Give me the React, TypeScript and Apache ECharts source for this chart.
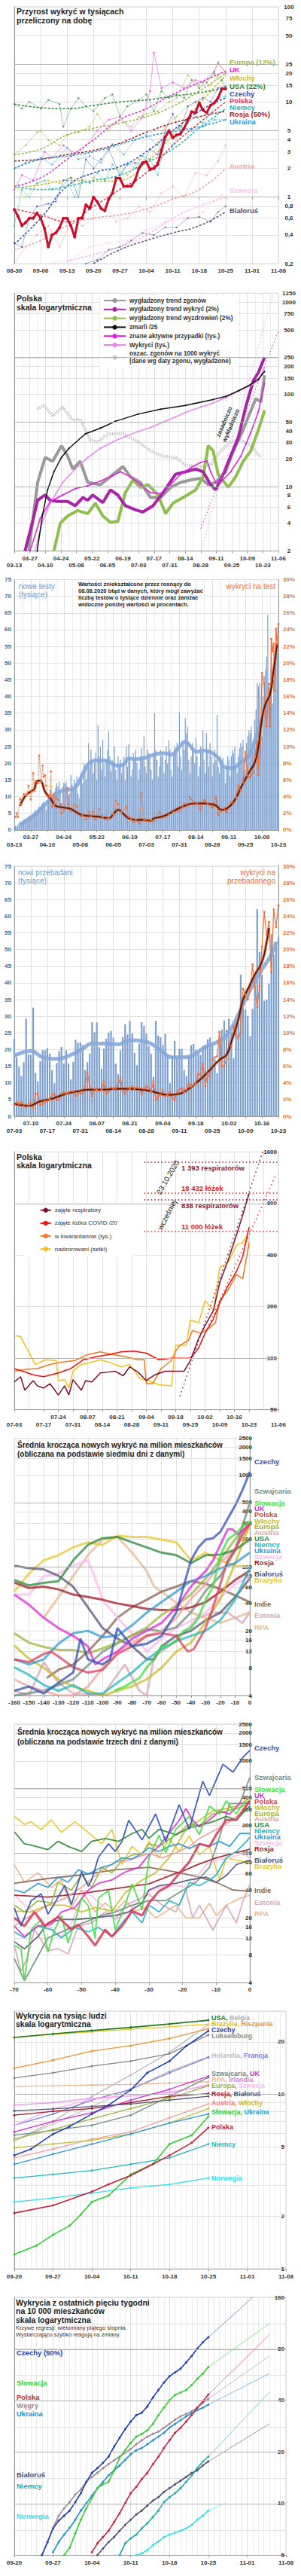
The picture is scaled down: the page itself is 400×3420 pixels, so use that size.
import React, { useEffect, useRef, useMemo } from 'react';
import * as echarts from 'echarts';

const FONT = '"Liberation Sans", Arial, Helvetica, sans-serif';
const lg = (v: number) => Math.log10(v);
const pairs = (arr: any[]) => arr.map(([x, v]) => [x, v == null ? null : lg(v)]);
const seq = (start: number, vals: any[]) => vals.map((v, i) => [start + i, v == null ? null : lg(v)]);
const atDays = (days: number[], vals: any[]) => vals.map((v, i) => [days[i], v == null ? null : lg(v)]);
const lin = (arr: any[]) => arr.map(([x, v]) => [x, v]);
const fmtLog = (v: number) => String(Math.round(Math.pow(10, v) * 100) / 100).replace('.', ',');

// ---------- colours ----------
const COL: any = {
  Europa: '#9cb43c', UK: '#dd2bd8', Wlochy: '#c9bb2b', USA: '#2a8a3a', Czechy: '#3050b8', Polska: '#d8405e',
  Niemcy: '#22b8c0', Rosja: '#a01e28', Ukraina: '#2e9ad8', Austria: '#f0a0a0', Szwecja: '#ffb8f0', Bialorus: '#555577',
  Szwajcaria: '#6f8f80', Slowacja: '#3ee03e', Brazylia: '#e8c830', Indie: '#8a6252', Estonia: '#d8a8b8', RPA: '#e8b890',
};

// ---------- panel 1 ----------
const P1_DATES = ['08-30', '09-06', '09-13', '09-20', '09-27', '10-04', '10-11', '10-18', '10-25', '11-01', '11-08'];
const P1_TICKS = [0.2, 0.4, 0.6, 0.8, 1, 2, 3, 4, 5, 10, 15, 20, 25, 50, 75, 100];
const P1_TREND_DAYS = [0, 7, 14, 21, 28, 35, 42, 49, 56];
const EUROPA_TREND = [2.8, 3.2, 4.5, 5.3, 6.0, 7.0, 9, 13, 20];
const WLOCHY_TREND = [1.25, 1.35, 1.5, 1.45, 1.5, 2.3, 4.5, 9.5, 19];
const UK_TREND = [1.3, 1.6, 2.5, 4, 6.5, 8.5, 12, 16, 21];
const USA_TREND = [9.5, 8.7, 8.5, 9.2, 10, 10.5, 11.5, 12.5, 14];
const CZECHY_TREND = [0.32, 0.6, 1.3, 1.8, 2.1, 3, 5, 8, 11];
const POLSKA_TREND = [0.75, 0.65, 0.55, 0.8, 1.2, 1.8, 3.5, 6, 10];
const NIEMCY_TREND = [1.3, 1.2, 1.3, 1.5, 1.7, 2.3, 3.2, 5.3, 8.5];
const ROSJA_TREND = [2.4, 2.5, 2.8, 3.1, 3.7, 4.8, 6, 7, 8];
const UKRAINA_TREND = [2.0, 2.5, 2.7, 3, 3.6, 4.3, 4.9, 5.5, 6.5];
const AUSTRIA_TREND = [0.28, 0.35, 0.5, 0.6, 0.65, 0.75, 0.95, 1.2, 2];
const SZWECJA_TREND = [null, null, 0.21, 0.25, 0.3, 0.4, 0.6, 0.8, 1.0];
const BIALORUS_TREND = [null, null, null, 0.2, 0.28, 0.35, 0.42, 0.5, 0.7];
const UK_DAILY = [[0, 1.2], [2, 1.7], [5, 1.5], [8, 3], [10, 2.6], [13, 3.5], [16, 2.9], [19, 3.5], [22, 5], [25, 6.5], [28, 7], [31, 5], [34, 7], [36, 13], [37, 33], [39, 14], [42, 16], [45, 14], [48, 17], [50, 16], [53, 21], [54, 26], [56, 20]];
const EUROPA_DAILY = [[0, 2.8], [3, 3.5], [6, 4.8], [7, 5], [9, 4], [12, 3.5], [14, 4.5], [17, 4.8], [20, 5.5], [22, 7.5], [25, 5], [28, 6.5], [31, 5.5], [33, 7], [35, 7.5], [38, 8], [41, 10], [43, 11], [46, 19], [49, 15], [52, 18], [54, 25], [56, 21]];
const WLOCHY_DAILY = [[0, 1.3], [3, 1.0], [6, 1.4], [9, 1.5], [12, 1.4], [15, 1.6], [18, 1.5], [21, 1.6], [24, 1.5], [27, 2], [30, 1.7], [33, 2.5], [36, 2.5], [38, 3.7], [40, 5.5], [43, 7], [46, 9], [49, 10], [52, 15], [54, 19], [56, 21]];
const USA_DAILY = [[0, 9.5], [2, 8.5], [4, 10], [7, 8.5], [9, 10.5], [12, 9.5], [13, 5.5], [15, 8.5], [17, 11], [19, 9], [21, 8], [24, 11], [26, 12], [28, 7], [30, 9], [33, 10.5], [35, 12], [37, 8], [39, 13], [41, 11], [43, 12], [45, 11], [47, 17], [49, 14], [51, 16], [53, 20], [55, 17], [56, 14]];
const CZECHY_DAILY = [[0, 0.33], [2, 0.3], [4, 0.6], [6, 0.8], [9, 0.85], [11, 0.9], [13, 1.5], [15, 1.6], [17, 1.0], [19, 2.5], [21, 2.0], [23, 2.5], [25, 3.2], [28, 1.7], [30, 2.2], [32, 2.3], [34, 2.2], [36, 3.2], [38, 2.8], [40, 5], [42, 7.5], [44, 5], [46, 9], [48, 10], [50, 11], [52, 10], [54, 14], [56, 14.5]];
const NIEMCY_DAILY = [[0, 0.5], [2, 1.2], [4, 1.0], [6, 1.4], [8, 1.5], [10, 1.2], [12, 1.2], [14, 1.5], [16, 1.0], [18, 1.5], [20, 1.4], [22, 1.8], [24, 1.5], [26, 2.2], [28, 1.7], [30, 2.3], [32, 2.0], [34, 2.7], [36, 2.5], [38, 1.7], [40, 4.0], [42, 3.5], [44, 5], [46, 6], [48, 7], [50, 6], [52, 7.5], [54, 11], [56, 11.5]];
const UKRAINA_DAILY = [[0, 2], [3, 2.3], [7, 2.6], [10, 2.2], [14, 3.3], [17, 2.5], [20, 2.7], [23, 2.3], [26, 3.6], [29, 2.8], [32, 4], [35, 4.5], [38, 3.5], [41, 4.8], [44, 5.5], [47, 5], [50, 5.5], [53, 6.5], [56, 6.5]];
const AUSTRIA_DAILY = [[0, 0.2], [3, 0.3], [6, 0.4], [9, 0.5], [12, 0.3], [15, 0.55], [18, 0.5], [21, 0.6], [24, 0.8], [27, 0.55], [30, 0.6], [33, 0.8], [36, 0.7], [39, 1.1], [42, 1.3], [45, 1.0], [48, 1.8], [51, 1.7], [54, 2.4], [56, 3.5]];
const SZWECJA_DAILY = [[10, 0.2], [15, 0.22], [20, 0.3], [25, 0.33], [30, 0.35], [35, 0.45], [40, 0.55], [45, 0.6], [50, 0.7], [55, 1.05]];
const BIALORUS_DAILY = [[19, 0.2], [22, 0.22], [25, 0.28], [28, 0.3], [31, 0.35], [34, 0.42], [37, 0.4], [40, 0.48], [43, 0.48], [46, 0.6], [49, 0.62], [52, 0.55], [54, 0.7], [56, 0.8]];
const POLSKA_DAILY_P1 = [0.74, 0.63, 0.50, 0.54, 0.60, 0.60, 0.68, 0.60, 0.47, 0.30, 0.40, 0.42, 0.48, 0.60, 0.60, 0.50, 0.38, 0.60, 0.60, 0.83, 0.76, 1.0, 0.89, 0.76, 0.72, 0.95, 1.1, 1.58, 1.58, 1.3, 1.3, 1.3, 1.5, 2.0, 2.3, 2.35, 1.95, 2.0, 2.2, 3.1, 4.3, 5.0, 4.2, 4.5, 4.6, 5.3, 6.4, 7.9, 7.7, 9.8, 8.2, 7.7, 9.2, 9.8, 11, 13.7, 13.7];

// ---------- panel 2 ----------
const P2_DATES = ['03-13', '03-27', '04-10', '04-24', '05-08', '05-22', '06-05', '06-19', '07-03', '07-17', '07-31', '08-14', '08-28', '09-11', '09-25', '10-09', '10-23', '11-06'];
const P2_TICKS = [2, 4, 6, 8, 10, 20, 30, 40, 50, 100, 150, 200, 250, 500, 750, 1000, 1250];
const ZMARLI = [[20.6, 2], [25.5, 5], [30, 9.2], [35.7, 14.5], [42.5, 20.7], [49.3, 26], [64, 37.3], [77.5, 43], [91, 51], [111.4, 61], [131.8, 69], [154.4, 76], [179.2, 88], [190.5, 95], [201.8, 109], [213.1, 128], [219.9, 146], [225.5, 177]];
const WYKRYCI = [[18.8, 2], [25.5, 4.2], [32.3, 6.6], [43.6, 11.1], [54.9, 15.5], [66.2, 20.7], [77.5, 26], [88.8, 30.6], [100.1, 35], [111.4, 39.6], [122.7, 43.7], [134, 49.9], [145.3, 56.8], [156.6, 65.5], [167.9, 72.6], [179.2, 80.8], [190.5, 92], [201.8, 108.8], [213.1, 124], [219.9, 141], [225.5, 195]];
const AKTYWNE = [[14.2, 2], [23.3, 4.5], [32.3, 6.9], [43.6, 8.1], [54.9, 9.5], [66.2, 10.2], [77.5, 11.5], [88.8, 13.2], [95.6, 14.5], [104.6, 12.8], [113.7, 10.5], [122.7, 8.6], [131.8, 8.4], [140.8, 10.5], [149.8, 13.6], [158.9, 16], [167.9, 18.3], [173.6, 19], [176.9, 14.5], [181.5, 11.1], [186, 11.1], [195, 14.5], [204.1, 21.4], [213.1, 38.5], [219.9, 64.6], [225.5, 132]];
const TREND_WYKRYC = [[9.7, 2], [16.5, 4.2], [21, 7.1], [27.8, 8.1], [32.3, 7.1], [39.1, 6.9], [48.1, 6.9], [54.9, 6.2], [61.7, 7.6], [66.2, 7.1], [70.7, 8.1], [79.8, 6.7], [86.6, 9.2], [93.3, 8.1], [100.1, 6.2], [109.2, 5.6], [115.9, 5.3], [125, 6.2], [134, 8.6], [145.3, 13.6], [154.4, 14.5], [163.4, 15.5], [170.2, 14.5], [176.9, 10.5], [181.5, 9.2], [188.2, 13.6], [195, 21.4], [201.8, 33.8], [208.6, 73.7], [215.4, 141], [219.9, 172], [225.5, 253]];
const TREND_ZGONOW = [[13.1, 2], [21, 11.1], [27.8, 20.7], [34.6, 18.8], [42.5, 27.8], [48.1, 21.4], [52.7, 15.5], [59.4, 18.8], [66.2, 11.1], [77.5, 10.5], [86.6, 12.8], [97.9, 16.5], [104.6, 12.8], [113.7, 11.1], [122.7, 7.6], [131.8, 7.6], [140.8, 9.8], [149.8, 11.1], [158.9, 11.8], [167.9, 12.3], [174.7, 10.5], [181.5, 11.1], [190.5, 14.5], [197.3, 24.4], [204.1, 36], [210.8, 56.8], [217.6, 90], [222.1, 83], [225.5, 161]];
const TREND_WYZDROWIEN = [[35.7, 2], [41.4, 4], [48.1, 4.8], [57.2, 5.5], [66.2, 5.1], [73, 6.6], [79.8, 4.8], [86.6, 4.1], [93.3, 4.2], [100.1, 8.6], [106.9, 11.8], [113.7, 9.8], [120.5, 10.5], [129.5, 8.1], [136.3, 5.1], [143, 6.6], [152.1, 7.6], [163.4, 9.2], [170.2, 12.8], [174.7, 27.8], [179.2, 24.4], [183.7, 13.6], [192.8, 9.8], [199.5, 12.8], [206.3, 18.8], [213.1, 24.4], [219.9, 41], [225.5, 67]];
const OSZAC = [[20.6, 69], [26.7, 76], [34.6, 58.6], [43.6, 72.6], [52.7, 52.5], [59.4, 54], [68.5, 32], [75.3, 30.6], [84.3, 37], [97.9, 37.7], [111.4, 30.6], [122.7, 24.4], [134, 21.4], [145.3, 20.7], [154.4, 17.1], [167.9, 16.5], [176.9, 17.1], [186, 24.4], [195, 30.6], [204.1, 32], [213.1, 27.8], [222.1, 20.7]];
const PROJ2_A = [[168, 3.5], [238, 485]];
const PROJ2_B = [[168.3, 2], [233.4, 1250]];

// ---------- panel 3 ----------
const P3_DATES = P2_DATES.slice(0, 17);
const TESTS3 = [
  0.8, 1.2, 1.0, 1.5, 2.0, 2.3, 2.0, 2.5, 3.0, 3.3, 2.8, 3.6, 4.0, 4.3,
  4.5, 4.2, 5.0, 5.5, 6.0, 5.2, 6.3, 7.0, 6.5, 7.5, 8.0, 8.5, 7.2, 6.0,
  9.0, 10.5, 11.0, 12.0, 10.0, 9.0, 11.5, 12.5, 14.0, 13.0, 14.5, 12.0, 8.0, 12.8,
  14.2, 13.8, 14.5, 13.0, 10.5, 11.0, 16.5, 13.5, 12.0, 15.0, 14.0, 16.0, 11.0, 9.5,
  16.5, 17.0, 14.0, 20.0, 18.0, 15.0, 19.0, 26.0, 19.0, 24.0, 21.0, 17.0, 20.0, 23.0,
  15.0, 31.4, 22.0, 25.0, 18.0, 27.0, 20.0, 16.0, 21.0, 24.0, 29.5, 22.0, 17.5, 21.0,
  20.0, 25.0, 18.0, 15.0, 22.0, 19.0, 21.0, 17.0, 20.0, 22.0, 15.0, 25.0, 19.0, 25.7,
  22.0, 16.0, 18.0, 23.0, 21.0, 24.0, 20.0, 15.0, 18.0, 22.0, 24.5, 21.0, 28.0, 19.0,
  17.0, 24.0, 23.0, 22.0, 18.0, 15.0, 23.0, 35.0, 24.0, 21.0, 16.0, 19.0, 24.0, 22.0,
  23.0, 17.0, 21.0, 25.0, 20.0, 26.8, 24.0, 18.0, 16.0, 22.0, 25.0, 23.0, 26.0, 19.0,
  35.2, 22.0, 18.0, 26.0, 24.0, 33.5, 29.0, 31.0, 21.0, 17.0, 22.0, 26.0, 24.0, 20.0,
  27.5, 22.0, 16.0, 19.0, 25.0, 23.0, 29.7, 21.0, 17.0, 29.0, 24.0, 19.0, 26.0, 22.0,
  16.0, 20.0, 24.0, 21.0, 34.5, 19.0, 17.0, 22.0, 20.0, 21.5, 18.0, 14.0, 19.0, 22.0,
  21.0, 16.0, 22.0, 24.0, 23.0, 25.0, 19.0, 17.0, 22.0, 24.5, 26.0, 25.0, 27.0, 21.0,
  18.0, 26.0, 28.0, 30.0, 29.0, 31.0, 24.0, 26.0, 33.0, 36.0, 44.0, 43.0, 44.0, 33.0,
  28.0, 40.0, 46.0, 48.0, 52.0, 64.5, 42.0, 37.0, 52.0, 38.0, 45.0, 50.0, 55.0, 53.0,
  55.0,
];
const TREND_TESTS3 = [[5, 1.65], [11, 3], [18, 4.7], [24, 6.9], [31, 9.2], [37, 11], [43, 12], [49, 12.2], [53, 13.3], [56, 15.2], [60, 18.2], [63, 19.8], [69, 20.8], [76, 20.8], [82, 20.1], [88, 19.2], [93, 19.7], [97, 21.4], [103, 21.2], [110, 21.5], [118, 22.5], [127, 23], [133, 22.5], [140, 24.9], [145, 26.4], [148, 25.6], [155, 23.4], [161, 23.7], [168, 23], [174, 21.1], [178, 18.8], [185, 18.5], [191, 20], [198, 21.9], [202, 24.9], [208, 30.9], [210, 33.2]];
const PCT3_EARLY = [[1, 1.56], [2, 2.0], [3, 1.56], [5, 3.7], [6, 3.07], [8, 4.27], [10, 4.1], [11, 4.27], [12, 5.3], [14, 3.67], [15, 4.57], [16, 6.8], [17, 4.7], [18, 5.8], [20, 5.6], [21, 8.9], [23, 5.8], [24, 7.7], [25, 6.4], [26, 6.5], [27, 5.3], [28, 4.0], [30, 4.0], [31, 7.0], [32, 2.8], [33, 4.27], [34, 3.07], [35, 3.8], [37, 3.67], [39, 3.07], [40, 2.0], [42, 2.3], [45, 5.0], [46, 3.07], [48, 2.3], [51, 3.07], [53, 2.8], [56, 1.56], [58, 1.86], [61, 1.26], [63, 2.17], [65, 1.56], [67, 2.17], [69, 1.26], [72, 2.47], [75, 1.56], [78, 1.26], [80, 1.4], [84, 1.86], [86, 3.5], [88, 3.07], [91, 2.17], [95, 2.77], [97, 1.56], [99, 1.26], [101, 0.96], [103, 1.26], [106, 0.8], [108, 4.4], [110, 1.1], [112, 1.26], [114, 0.96], [116, 1.2], [118, 1.05], [123, 2.1], [127, 1.5], [131, 1.8], [135, 2.1], [140, 2.26], [143, 2.7], [144, 3.17], [147, 2.86], [149, 3.9]];
const PCT3_LATE = [[149, 3.9], [152, 3.3], [155, 3.17], [158, 2.4], [161, 3.6], [164, 3.17], [168, 2.7], [171, 3.9], [173, 1.8], [175, 2.26], [178, 2.56], [180, 2.1], [184, 3.3], [186, 3.17], [188, 3.9], [190, 5.3], [192, 4.8], [194, 5.7], [196, 9.35], [198, 6.5], [200, 6.3], [202, 6.8], [204, 8.7], [206, 10.55], [207, 6.6], [209, 10.85], [210, 18.8], [212, 17.5], [213, 14.2], [214, 12.4], [216, 17.5], [217, 12.4], [218, 22.9], [219, 21.4], [220, 22.3], [221, 16.7], [222, 24.1], [223, 22.3], [224, 24.7]];
const SMOOTH_PCT3 = [[5, 2.9], [9, 4.0], [14, 4.6], [17, 4.9], [19, 5.8], [21, 5.9], [23, 5.8], [26, 4.6], [31, 3.7], [35, 2.9], [41, 2.7], [48, 2.5], [56, 1.86], [65, 1.65], [73, 1.56], [80, 1.4], [84, 1.86], [88, 2.4], [93, 1.86], [97, 1.4], [103, 1.2], [110, 1.2], [116, 1.1], [118, 1.36], [127, 1.66], [135, 2.26], [144, 2.86], [153, 3.17], [161, 3.17], [170, 3.0], [176, 2.4], [180, 2.56], [187, 3.6], [193, 5.3], [200, 7.1], [204, 8.1], [207, 9.95], [210, 13.3], [213, 15.1], [217, 16.3], [220, 19.3], [223, 22.3]];

// ---------- panel 4 ----------
const P4_DATES = ['07-03', '07-10', '07-17', '07-24', '07-31', '08-07', '08-14', '08-21', '08-28', '09-04', '09-11', '09-18', '09-25', '10-02', '10-09', '10-16', '10-23'];
const PERSONS4 = [
  23.1, 17.7, 14.8, 12.0, 16.2, 29.3, 18.6, 18.4, 32.6, 13.0, 10.5, 16.5, 19.8, 19.8, 20.4, 18.8, 13.8, 9.9, 16.0, 19.5,
  20.8, 15.8, 19.8, 15.8, 11.1, 16.3, 22.9, 22.0, 22.2, 21.4, 13.9, 16.2, 18.8, 28.2, 25.2, 28.2, 20.7, 14.3, 20.3, 23.3,
  25.1, 25.6, 23.6, 15.8, 12.6, 19.8, 23.7, 27.6, 24.5, 28.6, 24.8, 19.0, 15.3, 21.8, 28.2, 27.1, 24.8, 21.1, 18.8,
  11.8, 28.6, 24.2, 23.7, 21.4, 24.7, 18.1, 9.9, 18.1, 22.6, 17.7, 20.2, 20.2, 13.9, 12.0, 18.4, 21.3, 21.7, 19.9, 19.2,
  18.4, 21.1, 21.2, 23.1, 23.6, 21.4, 17.1, 12.8, 23.0, 26.0, 28.7, 26.0, 29.3, 25.2, 17.4, 27.8, 28.1, 42.5, 36.0, 32.0,
  30.1, 24.0, 32.2, 42.5, 62.1, 49.3, 42.5, 34.6, 35.0, 39.7, 54.6, 48.5, 52.3, 53.8,
];
const PCT4 = [
  1.35, 1.66, 1.5, 1.66, 1.2, 1.05, 1.35, 1.66, 0.9, 2.7, 2.7, 1.35, 1.5, 1.8, 1.8, 2.0, 2.56, 2.7, 1.96, 1.96,
  2.7, 2.86, 2.7, 2.86, 3.0, 3.0, 2.4, 2.7, 2.86, 2.7, 3.6, 5.27, 3.6, 2.4, 3.3, 3.16, 3.0, 3.16, 4.2, 2.7,
  3.0, 3.46, 3.3, 3.4, 3.76, 4.66, 3.0, 2.7, 3.46, 3.3, 3.6, 3.3, 3.46, 3.4, 2.6, 3.3, 3.6, 3.4, 3.0,
  4.2, 1.9, 2.4, 2.56, 3.16, 2.4, 2.56, 2.9, 2.26, 1.9, 2.86, 3.16, 3.4, 2.86, 3.2, 3.9, 3.6, 3.76, 3.9, 5.1,
  4.97, 6.3, 3.6, 5.1, 4.66, 6.77, 7.07, 7.2, 10.1, 6.0, 6.0, 6.9, 8.6, 8.4, 10.8, 9.9, 9.3, 10.1, 15.3, 14.6,
  14.0, 15.0, 18.2, 15.5, 13.1, 15.6, 20.3, 24.5, 21.8, 23.3, 17.3, 24.8, 22.7, 25.3,
];
const TREND_PERSONS4 = [[0, 18.1], [7, 19.6], [12, 17.7], [18, 17.2], [24, 18.4], [29, 20.3], [33, 21.8], [40, 21.8], [44, 21.6], [49, 22.8], [54, 22.6], [58, 21.8], [63, 19.2], [67, 17.7], [72, 17.7], [76, 18.4], [81, 20.8], [87, 22.6], [91, 25.2], [96, 32], [100, 38], [105, 44], [109, 48.5], [111, 52.3]];
const SMOOTH_PCT4 = [[0, 1.5], [6, 1.26], [11, 1.8], [16, 2.1], [22, 2.7], [27, 3.0], [32, 3.2], [38, 3.2], [43, 3.3], [48, 3.3], [54, 3.2], [58, 3.0], [60, 2.86], [65, 2.56], [70, 2.7], [74, 3.3], [78, 4.2], [82, 5.27], [87, 6.77], [90, 7.37], [92, 8.9], [95, 11.6], [97, 14], [100, 15.8], [102, 17], [105, 18.5], [107, 20.9], [108, 22.6]];

// ---------- panel 5 ----------
const P5_DATES = [...P4_DATES, '10-30', '11-06'];
const P5_TICKS = [50, 100, 200, 400, 800, 1600];
const RESPIRATORY = [[0, 72.7], [3, 78], [5, 65], [9, 74], [11, 69], [14, 67], [17, 71], [21, 61], [24, 69], [26, 61], [28, 75], [32, 65], [34, 74], [37, 72.7], [41, 82], [45, 83], [48, 84], [52, 79], [55, 89], [59, 83], [63, 74], [67, 80], [72, 84], [77, 84], [81, 84], [84, 97], [88, 131], [91, 155], [95, 190], [98, 276], [102, 374], [106, 524], [109, 685], [112, 915]];
const LOZKA = [[0, 87], [4, 84], [9, 80], [14, 78], [21, 82], [27, 87], [33, 98], [39, 102], [45, 105], [51, 109], [57, 110], [63, 107], [69, 98], [75, 100], [81, 100], [84, 100], [88, 115], [91, 140], [95, 170], [98, 210], [102, 265], [106, 321], [109, 393], [112, 582]];
const KWARANTANNA = [[0, 84], [5, 86], [11, 87], [17, 92], [23, 95], [29, 97], [35, 105], [41, 109], [47, 105], [53, 102], [59, 98], [62, 98], [63, 71], [66, 71], [70, 87], [75, 97], [77, 110], [79, 119], [83, 127], [85, 145], [89, 140], [93, 150], [96, 161], [98, 217], [102, 250], [106, 308], [109, 291], [111, 400], [112, 470]];
const NADZOROWANI = [[0, 135], [3, 134], [5, 120], [10, 92], [15, 98], [20, 97], [21, 74], [24, 75], [26, 67], [28, 84], [32, 92], [36, 94], [41, 98], [46, 94], [51, 89], [55, 92], [60, 76], [64, 74], [69, 70], [75, 69], [77, 119], [82, 119], [84, 167], [88, 161], [91, 217], [95, 190], [98, 337], [102, 362], [106, 458], [109, 473], [111, 520], [112, 440]];
const RESPIRATOR_LIMITS = [1393, 838];
const BED_LIMITS = [18432, 11000];
const BED_SCALE = 20;
const PROJ5_RESP = [[79, 60], [118.5, 1600]];
const PROJ5_BEDS = [[88, 115], [125, 1195]];

// ---------- panels 6 & 7 ----------
const P67_TICKS = [4, 8, 12, 16, 20, 40, 60, 80, 100, 200, 300, 400, 500, 1000, 1500, 2000, 2500];
const CZECHY6 = [[-160, 4.5], [-150, 5], [-140, 4.2], [-130, 5.5], [-120, 7.1], [-115, 16.6], [-110, 9.9], [-100, 8.7], [-95, 9.9], [-90, 21.6], [-80, 13.7], [-70, 14.6], [-60, 17.8], [-50, 31.9], [-40, 118], [-35, 163], [-30, 198], [-25, 205], [-20, 241], [-15, 334], [-10, 463], [-5, 685], [0, 1080]];
const SZWAJCARIA6 = [[-160, 4], [-140, 4.5], [-120, 6], [-100, 12], [-80, 18], [-70, 21], [-60, 20], [-50, 22], [-40, 32], [-30, 55], [-20, 80], [-10, 150], [-5, 280], [0, 500]];
const SLOWACJA6 = [[-92, 4.5], [-85, 5], [-75, 6.2], [-70, 8.1], [-65, 9.9], [-60, 13.7], [-55, 14.1], [-50, 15.6], [-45, 20.2], [-40, 21.6], [-35, 28], [-30, 44], [-25, 61], [-20, 134], [-15, 198], [-10, 226], [-5, 275], [0, 313]];
const UK6 = [[-160, 50], [-150, 38.8], [-140, 28], [-130, 21.6], [-120, 17.8], [-110, 13.7], [-105, 8.7], [-100, 9.9], [-90, 12], [-80, 16.6], [-70, 20.2], [-60, 24.6], [-50, 36.4], [-45, 47], [-40, 61], [-35, 75], [-30, 90], [-25, 118], [-20, 174], [-15, 257], [-12, 257], [-8, 226], [0, 293]];
const POLSKA6 = [[-160, 9.9], [-150, 9.2], [-140, 11.3], [-135, 12], [-130, 10.6], [-120, 8.1], [-110, 7.1], [-100, 7.6], [-90, 11.3], [-80, 13.7], [-70, 17.8], [-60, 19], [-50, 17.8], [-45, 13.7], [-42, 12], [-38, 12.8], [-30, 21.6], [-25, 36.4], [-20, 65.5], [-15, 118], [-10, 153], [-5, 226], [0, 293]];
const WLOCHY6 = [[-160, 14], [-150, 10], [-140, 8], [-130, 6], [-120, 5], [-110, 4.5], [-100, 4], [-90, 4.5], [-80, 5], [-70, 6], [-60, 8], [-50, 12], [-40, 15], [-30, 25], [-20, 45], [-10, 110], [0, 290]];
const EUROPA6 = [[-160, 19], [-150, 15], [-140, 13.5], [-130, 12.5], [-120, 12.5], [-110, 11.5], [-100, 13], [-90, 15], [-80, 18], [-70, 22], [-60, 30], [-50, 38], [-40, 50], [-30, 75], [-20, 120], [-10, 200], [0, 300]];
const AUSTRIA6 = [[-160, 6], [-150, 5], [-140, 4.5], [-130, 4], [-120, 4], [-110, 5], [-100, 8], [-90, 12], [-80, 15], [-70, 18], [-60, 20], [-50, 28], [-40, 45], [-30, 65], [-20, 110], [-10, 160], [0, 280]];
const USA6 = [[-160, 72], [-150, 63], [-140, 67], [-130, 70], [-120, 118], [-110, 174], [-100, 205], [-90, 212], [-80, 185], [-70, 163], [-60, 143], [-50, 134], [-40, 110], [-30, 134], [-20, 136], [-10, 153], [0, 198]];
const NIEMCY6 = [[-160, 8.1], [-150, 6.7], [-140, 5.2], [-130, 4.5], [-120, 5.2], [-110, 4.2], [-100, 4.2], [-90, 5.5], [-80, 7.1], [-70, 9.9], [-60, 12.8], [-50, 15.6], [-40, 17.8], [-30, 20.2], [-20, 26.3], [-10, 44], [0, 97]];
const UKRAINA6 = [[-160, 9.9], [-150, 8.7], [-140, 9.9], [-130, 14.6], [-120, 19], [-110, 20.2], [-100, 17.2], [-90, 17.8], [-80, 23.2], [-70, 31.9], [-60, 41.4], [-50, 53.8], [-40, 69.8], [-30, 79.6], [-20, 96.7], [-10, 110], [0, 143]];
const SZWECJA6 = [[-160, 50], [-150, 50], [-140, 79.6], [-130, 85], [-120, 103], [-110, 118], [-105, 75], [-100, 44], [-90, 28], [-80, 19], [-70, 12], [-60, 16.6], [-50, 21.6], [-40, 26], [-30, 32], [-20, 47], [-10, 65], [0, 80]];
const ROSJA6 = [[-160, 67.6], [-150, 59], [-140, 61], [-130, 57], [-120, 50], [-110, 47], [-100, 44], [-90, 40], [-80, 37.5], [-70, 35], [-60, 34], [-50, 34], [-40, 36.4], [-30, 41.4], [-20, 53.8], [-10, 72], [0, 91]];
const BIALORUS6 = [[-160, 103], [-150, 96.7], [-140, 94], [-130, 80], [-120, 61], [-110, 36.4], [-100, 21.6], [-90, 16.6], [-80, 13.7], [-70, 9.9], [-65, 9.9], [-60, 13.7], [-50, 17.8], [-40, 20.2], [-30, 26.3], [-20, 31.9], [-10, 47], [0, 75]];
const BRAZYLIA6 = [[-160, 53.8], [-150, 85], [-140, 118], [-130, 134], [-120, 163], [-110, 185], [-100, 174], [-90, 218], [-80, 212], [-70, 212], [-60, 198], [-50, 185], [-40, 118], [-30, 143], [-20, 118], [-10, 103], [0, 100]];
const INDIE6 = [[-138, 6.2], [-130, 7.6], [-120, 8.7], [-110, 12], [-100, 17.8], [-90, 28], [-80, 36.4], [-70, 44], [-60, 53.8], [-50, 61], [-40, 70], [-30, 65.5], [-20, 57.4], [-10, 49], [0, 41.4]];
const ESTONIA6 = [[-160, 4.5], [-150, 4], [-140, 9.2], [-130, 5.5], [-120, 4.2], [-100, 4], [-85, 8.7], [-75, 4.5], [-70, 4], [-65, 10.6], [-55, 13.7], [-45, 19], [-35, 28], [-25, 31.9], [-15, 31.9], [-5, 24.6], [0, 31.9]];
const RPA6 = [[-140, 28], [-130, 47], [-120, 79.6], [-110, 134], [-100, 198], [-90, 212], [-80, 143], [-70, 90], [-65, 61], [-60, 54], [-50, 41], [-40, 32], [-30, 28], [-20, 24.6], [-10, 28], [0, 32]];

const CZECHY7 = [[-70, 25.9], [-68, 16.4], [-65, 30.8], [-62, 36.6], [-60, 22], [-58, 29], [-55, 45], [-53, 28], [-50, 63], [-48, 44], [-47, 51.6], [-45, 91], [-42, 127], [-40, 105], [-38, 135], [-36, 228], [-32, 140], [-28, 267], [-25, 135], [-21, 335], [-18, 182], [-14, 602], [-12, 422], [-8, 919], [-5, 757], [-2, 1100], [0, 1300]];
const SZWAJCARIA7 = [[-70, 7.3], [-67, 4.2], [-60, 12.2], [-52, 16.4], [-44, 21.3], [-40, 23.3], [-35, 27.6], [-30, 30.8], [-25, 30.8], [-21, 37.6], [-16, 48.7], [-12, 70.8], [-9, 150], [-6, 347], [-3, 347], [0, 660]];
const SLOWACJA7 = [[-70, 10.1], [-68, 9.3], [-67, 4.2], [-65, 15], [-62, 19.3], [-60, 8.6], [-58, 15], [-56, 21.3], [-54, 10.8], [-52, 18], [-50, 33.1], [-48, 27], [-46, 12.2], [-45, 33], [-42, 39.4], [-40, 15], [-37, 28], [-35, 47], [-32, 24.5], [-30, 88.5], [-27, 158], [-25, 102], [-22, 182], [-18, 251], [-15, 159], [-12, 325], [-9, 267], [-7, 370], [-4, 267], [-2, 347], [0, 370]];
const UK7 = [[-70, 16.4], [-67, 12.6], [-63, 16.4], [-59, 17], [-56, 23.3], [-52, 25.9], [-48, 40.2], [-45, 47.4], [-41, 51.6], [-37, 63], [-33, 70.8], [-30, 96.3], [-27, 120], [-24, 165], [-21, 228], [-19, 305], [-17, 230], [-15, 193], [-12, 230], [-9, 286], [-6, 267], [-3, 347], [0, 347]];
const POLSKA7 = [[-70, 20.1], [-67, 16.4], [-64, 23.3], [-61, 16.4], [-57, 20.6], [-53, 15], [-51, 17], [-48, 12.6], [-46, 10.1], [-43, 15], [-41, 12.6], [-38, 16.4], [-35, 23.8], [-32, 21.3], [-30, 29], [-27, 39], [-24, 44.7], [-21, 60.8], [-18, 81], [-15, 127], [-12, 119], [-10, 159], [-7, 230], [-4, 230], [0, 370]];
const WLOCHY7 = [[-70, 23.8], [-65, 23.3], [-60, 27.6], [-55, 27.6], [-50, 23.3], [-46, 25.9], [-41, 23.8], [-37, 37.6], [-32, 51.6], [-28, 61.7], [-24, 89.5], [-19, 181], [-15, 228], [-11, 286], [-7, 305], [-4, 325], [0, 394]];
const EUROPA7 = [[-70, 27.6], [-67, 23.3], [-63, 30.8], [-59, 29], [-57, 48.7], [-53, 40], [-50, 58.5], [-47, 42.9], [-44, 70.8], [-41, 61.7], [-38, 84], [-35, 96], [-32, 100], [-30, 127], [-27, 119], [-22, 159], [-18, 206], [-15, 200], [-11, 267], [-7, 286], [-4, 305], [0, 347]];
const AUSTRIA7 = [[-70, 16.4], [-65, 21.3], [-60, 27.6], [-55, 32.6], [-50, 42.9], [-45, 61.7], [-40, 80.7], [-36, 84], [-30, 100], [-26, 89.5], [-21, 105], [-18, 119], [-15, 145], [-10, 182], [-6, 220], [-3, 267], [0, 370]];
const USA7 = [[-70, 171], [-67, 127], [-65, 123], [-60, 110], [-57, 135], [-54, 119], [-50, 105], [-47, 135], [-43, 145], [-39, 135], [-35, 164], [-32, 182], [-30, 145], [-27, 182], [-22, 159], [-18, 189], [-15, 200], [-11, 220], [-7, 251], [-4, 230], [0, 324]];
const NIEMCY7 = [[-70, 14.2], [-67, 12.2], [-63, 16.4], [-59, 15], [-56, 12.2], [-52, 15.8], [-48, 14.2], [-45, 15.8], [-41, 12.6], [-38, 17.7], [-35, 23.3], [-32, 17.7], [-30, 27.6], [-27, 23.3], [-24, 30.8], [-21, 27.6], [-18, 48.7], [-15, 44.7], [-12, 51.6], [-10, 58.5], [-7, 89.5], [-4, 105], [-1, 135], [0, 150]];
const UKRAINA7 = [[-70, 40.2], [-67, 37.6], [-63, 47.4], [-60, 42.9], [-57, 55.5], [-54, 48.7], [-51, 66.6], [-48, 60], [-44, 70.8], [-41, 75.7], [-38, 89.5], [-35, 87], [-32, 100], [-30, 115], [-27, 105], [-24, 119], [-21, 127], [-18, 113], [-15, 127], [-12, 119], [-9, 135], [-6, 119], [-3, 164], [0, 164]];
const SZWECJA7 = [[-70, 36], [-67, 27.6], [-64, 23.3], [-60, 16.4], [-56, 12.6], [-53, 17.7], [-49, 40.2], [-44, 27.6], [-40, 19.3], [-36, 23.3], [-31, 37.6], [-27, 42.9], [-22, 45.1], [-18, 42.9], [-13, 75.7], [-10, 84], [-6, 89.5], [-2, 100], [0, 89.5]];
const ROSJA7 = [[-70, 35.4], [-60, 33.7], [-50, 36.9], [-40, 41.6], [-30, 46.8], [-22, 60.8], [-20, 64.4], [-15, 76.9], [-10, 89.5], [-5, 100], [0, 111]];
const BIALORUS7 = [[-70, 11.1], [-67, 9.3], [-63, 12.6], [-60, 17.7], [-56, 19.3], [-52, 19.3], [-48, 19.8], [-44, 20.6], [-40, 21.3], [-36, 23.3], [-32, 29], [-30, 40.2], [-27, 44.7], [-22, 47.4], [-18, 51.6], [-13, 55.5], [-10, 48.7], [-7, 57.6], [-4, 75.7], [0, 84]];
const BRAZYLIA7 = [[-70, 251], [-67, 206], [-65, 220], [-62, 181], [-59, 230], [-56, 169], [-52, 220], [-50, 193], [-44, 127], [-41, 182], [-38, 75.7], [-35, 119], [-32, 96.3], [-30, 135], [-27, 89.5], [-24, 145], [-21, 105], [-18, 155], [-15, 96.3], [-12, 119], [-9, 51.6], [-7, 89.5], [-4, 84], [0, 80]];
const INDIE7 = [[-70, 47.4], [-60, 53.5], [-50, 58.5], [-40, 66.6], [-30, 70.8], [-22, 63], [-15, 55.5], [-10, 48.7], [-5, 40.2], [0, 39]];
const ESTONIA7 = [[-70, 10.1], [-68, 5.3], [-66, 7.7], [-64, 15], [-60, 8.9], [-57, 9.3], [-54, 8.2], [-51, 16.4], [-47, 17.7], [-43, 23.3], [-40, 19.3], [-37, 27.6], [-34, 30.8], [-30, 36], [-26, 27.6], [-22, 23.3], [-19, 40.2], [-17, 20.1], [-15, 27.6], [-11, 14.8], [-7, 27.6], [-4, 17.7], [-2, 30.8], [0, 46]];
const RPA7 = [[-70, 75.7], [-67, 48.7], [-63, 61.7], [-59, 42.9], [-56, 51.6], [-53, 25.9], [-50, 40.2], [-46, 23.3], [-43, 29], [-40, 23.8], [-37, 30.8], [-34, 23.8], [-31, 25.9], [-28, 20.1], [-25, 23.3], [-22, 27.6], [-19, 20.1], [-15, 20.1], [-12, 29], [-10, 21.3], [-7, 27.6], [-3, 32.6], [0, 35.4]];

// ---------- panel 8 ----------
const P89_DATES = ['09-20', '09-27', '10-04', '10-11', '10-18', '10-25', '11-01', '11-08'];
const P8_DAYS = [0, 7, 14, 21, 28, 35];
const USA8 = [21.2, 22.2, 23.2, 24.2, 25.3, 26.6];
const BELGIA8 = [5.4, 7.0, 9.74, 12.9, 17.4, 25.1];
const BRAZYLIA8 = [21.2, 22.0, 22.8, 23.6, 24.4, 25.2];
const HISZPANIA8 = [14.1, 15.7, 17.7, 19.0, 20.9, 23.8];
const CZECHY8 = [[0, 4.47], [3, 4.86], [7, 5.93], [10, 6.55], [14, 7.72], [17, 8.67], [21, 10.6], [24, 13.3], [28, 15.5], [31, 18.9], [35, 23.1]];
const LUKSEMBURG8 = [12.4, 13.3, 14.5, 15.5, 17.1, 21.9];
const HOLANDIA8 = [5.4, 6.77, 8.53, 10.7, 13.6, 16.4];
const FRANCJA8 = [6.65, 7.72, 9.27, 10.7, 13.3, 16.3];
const SZWAJCARIA8 = [5.83, 6.22, 6.65, 7.6, 9.74, 12.5];
const UK8 = [6.1, 7.0, 7.85, 9.27, 10.7, 12.7];
const RPA8 = [11.1, 11.2, 11.3, 11.4, 11.6, 11.8];
const IRLANDIA8 = [8.67, 8.97, 9.5, 9.8, 10.3, 11.2];
const EUROPA8 = [5.55, 6.3, 7.23, 8.3, 9.5, 11.2];
const SZWECJA8 = [6.65, 8.26, 9.4, 9.8, 10.1, 11.4];
const ROSJA8 = [7.6, 8.0, 8.3, 8.97, 9.74, 10.1];
const BIALORUS8 = [8.05, 8.26, 8.53, 8.8, 9.27, 9.74];
const AUSTRIA8 = [4.33, 4.86, 5.55, 6.1, 7.35, 8.8];
const WLOCHY8 = [4.94, 5.2, 5.45, 5.93, 6.85, 8.3];
const SLOWACJA8 = [[0, 1.21], [4, 1.36], [7, 1.57], [10, 1.77], [12, 2.05], [14, 2.42], [17, 2.63], [21, 3.48], [25, 3.98], [28, 5.19], [32, 5.83], [35, 7.47]];
const UKRAINA8 = [3.98, 4.55, 5.19, 5.93, 6.85, 7.72];
const POLSKA8 = [[0, 2.09], [7, 2.31], [14, 2.77], [17, 3.05], [21, 3.43], [25, 3.98], [28, 4.47], [32, 5.28], [35, 6.44]];
const NIEMCY8 = [3.32, 3.48, 3.66, 3.98, 4.33, 5.19];
const NORWEGIA8 = [2.42, 2.55, 2.72, 2.91, 3.05, 3.32];

// ---------- panel 9 ----------
const CZECHY9 = [5.0, 5.96, 7.17, 7.94, 8.5, 9.1, 10.2, 11.5, 13.4, 15.1, 16.1, 17.3, 18.8, 21.5, 24.2, 27.2, 30.1, 32.8, 33.9, 36.9, 41.6, 46, 50.9, 55.4, 58.3, 61.3, 66.7, 72.6, 80.4, 87.4, 93.5];
const SLOWACJA9 = [5.0, 5.53, 6.70, 8.05, 9.4, 10.75, 12.3, 12.96, 13.4, 15.6, 18.5, 20.5, 22.6, 24.6, 25.5, 26.8, 29.2, 32.8, 36.3, 40.2, 43, 44.5, 46, 49.2, 53.5, 57.3, 62.7];
const POLSKA9 = [5.2, 5.86, 6.37, 6.93, 7.81, 8.78, 10.06, 11.5, 12.5, 13.9, 15.1, 17, 18.8, 21.1, 23.4, 25.9, 27.7, 30.1, 32.8, 36.3, 39.5, 43.3];
const WEGRY9 = [5.0, 6.0, 7.22, 8.5, 9.4, 10.2, 11.3, 12.1, 13.4, 14.3, 15.1, 16.1, 17, 17.9, 18.8, 19.8, 20.8, 22.2, 23.4, 24.6, 25.5, 26.3, 27.7, 29.2, 30.9, 32.3, 33.4, 34.5, 36.3, 38.6, 40.9];
const UKRAINA9 = [5.2, 5.96, 6.59, 7.22, 8.05, 9.1, 10.06, 11.1, 12.3, 13.4, 14.6, 15.6, 16.7, 17.98, 19.4, 20.5, 21.1, 22.2, 23.4, 24.6, 25.9, 27.7, 29.2, 30.7, 32.3, 33.7, 35.1, 36.3, 37.8];
const BIALORUS9 = [5.0, 5.47, 5.96, 6.37, 6.93, 7.5, 8.05, 8.64, 9.1, 9.72, 10.4, 10.9, 11.7, 12.3, 12.96, 13.6, 14.3, 15.1, 15.6, 16.7, 17.6];
const NIEMCY9 = [5.0, 5.86, 6.27, 6.59, 7.17, 7.67, 8.35, 9.1, 10.2, 10.9, 11.5, 12.3, 13.4, 14.6, 16.1, 17.6, 18.8];
const NORWEGIA9 = [5.0, 5.12, 5.35, 5.72, 6.0, 6.37, 6.59, 6.75, 6.93, 7.17, 7.5, 8.05, 8.5, 9.1];
const PROJ9: any = {
  Czechy: [[35, 93.5], [39, 122], [43, 160]], Slowacja: [[35, 62.7], [46, 112.5]], Polska: [[35, 43.3], [46, 96.7]],
  Wegry: [[35, 40.9], [46, 72.6]], Ukraina: [[35, 37.8], [46, 57.3]], Bialorus: [[35, 17.6], [46, 29.2]],
  Niemcy: [[35, 18.8], [46, 44.6]], Norwegia: [[35, 9.1], [38, 10.06]],
};

// ---------- helpers ----------
const AXL: any = { color: '#333', fontSize: 8, fontWeight: 'bold', fontFamily: FONT };
const SPLIT: any = { show: true, lineStyle: { color: '#e0e0e0', width: 1 } };
const AXLINE: any = { show: true, lineStyle: { color: '#9a9a9a' } };
const GRID = (left: number, right: number, top: number, bottom: number) => ({ left, right, top, bottom, show: true, borderColor: '#d4d4d4', borderWidth: 1 });

function dateAxis(max: number, interval: number, dates: string[], twoRows: boolean, minor?: number) {
  const ax: any = {
    type: 'value', min: 0, max, interval,
    axisLine: AXLINE,
    axisTick: { show: true, length: 3, lineStyle: { color: '#9a9a9a' } },
    axisLabel: {
      ...AXL, margin: 5, lineHeight: 9.6, showMinLabel: true, showMaxLabel: true,
      formatter: (v: number) => { const i = Math.round(v / interval); const s = dates[i] ?? ''; return twoRows && i % 2 === 0 ? '\n' + s : s; },
    },
    splitLine: SPLIT,
  };
  if (minor) {
    ax.minorTick = { show: false, splitNumber: minor };
    ax.minorSplitLine = { show: true, lineStyle: { color: '#ececec', width: 1 } };
  }
  return ax;
}
function numAxis(min: number, max: number, interval: number) {
  return {
    type: 'value', min, max, interval,
    axisLine: AXLINE, axisTick: { show: true, length: 3, lineStyle: { color: '#9a9a9a' } },
    axisLabel: { ...AXL, margin: 5, showMinLabel: true, showMaxLabel: true }, splitLine: SPLIT,
  };
}
function logAxis(min: number, max: number, lines: number[], labels: number[], label: any) {
  return {
    type: 'value', position: 'right', min: lg(min), max: lg(max),
    axisLine: AXLINE, axisTick: { show: false, customValues: lines.map(lg) },
    axisLabel: { ...AXL, customValues: labels.map(lg), formatter: fmtLog, ...label },
    splitLine: SPLIT,
  };
}
const darkLines = (vals: number[]) => ({
  silent: true, symbol: 'none', label: { show: false }, animation: false,
  lineStyle: { color: '#b4b4b4', width: 1, type: 'solid' }, data: vals.map((v) => ({ yAxis: lg(v) })),
});
const T = (x: number, y: number, text: string, fill: string, size = 9, weight: any = 'bold', extra: any = {}) => ({
  type: 'text', x, y, z: 50, silent: true,
  style: { text, fill, fontSize: size, fontWeight: weight, fontFamily: FONT, align: 'left', verticalAlign: 'middle', ...extra },
});
const RT = (x: number, y: number, a: string, ca: string, b: string | null, cb: string | null, size = 8.5) => ({
  type: 'text', x, y, z: 50, silent: true,
  style: {
    text: b ? `{a|${a}}{b|${b}}` : `{a|${a}}`, fontFamily: FONT, verticalAlign: 'middle', align: 'left',
    rich: { a: { fill: ca, fontSize: size, fontWeight: 'bold', fontFamily: FONT }, b: { fill: cb || ca, fontSize: size, fontWeight: 'bold', fontFamily: FONT } },
  },
});
const L = (data: any[], color: string, width: number, extra: any = {}) => ({
  type: 'line', data, symbol: 'none', silent: true, lineStyle: { color, width }, itemStyle: { color }, ...extra,
});

// ---------- panels ----------
function panel1() {
  const list: any[] = [
    [COL.Austria, AUSTRIA_DAILY, AUSTRIA_TREND], [COL.Szwecja, SZWECJA_DAILY, SZWECJA_TREND], [COL.Bialorus, BIALORUS_DAILY, BIALORUS_TREND],
    [COL.Europa, EUROPA_DAILY, EUROPA_TREND], [COL.UK, UK_DAILY, UK_TREND], [COL.Wlochy, WLOCHY_DAILY, WLOCHY_TREND],
    [COL.USA, USA_DAILY, USA_TREND], [COL.Czechy, CZECHY_DAILY, CZECHY_TREND], [COL.Niemcy, NIEMCY_DAILY, NIEMCY_TREND],
    [COL.Rosja, null, ROSJA_TREND], [COL.Ukraina, UKRAINA_DAILY, UKRAINA_TREND], ['#e04050', null, POLSKA_TREND],
  ];
  const series: any[] = [];
  list.forEach(([c, d, t]) => {
    if (d) series.push(L(pairs(d), c, 1, { symbol: 'circle', symbolSize: 2.5, showSymbol: true, lineStyle: { color: c, width: 1, opacity: 0.45 }, itemStyle: { color: c, opacity: 0.7 } }));
    series.push(L(atDays(P1_TREND_DAYS, t), c, 1.5, { smooth: true, connectNulls: false, lineStyle: { color: c, width: 1.5, type: [3, 2] } }));
  });
  series.push(L(seq(0, POLSKA_DAILY_P1), '#c8102e', 3, { symbol: 'circle', symbolSize: 4, showSymbol: true, z: 5, markLine: darkLines([25, 5, 1]) }));
  const labels: any[] = [
    ['Europa (12%)', COL.Europa, 82], ['UK', COL.UK, 92.5], ['Włochy', COL.Wlochy, 103], ['USA (22%)', COL.USA, 114],
    ['Czechy', COL.Czechy, 124], ['Polska', COL.Polska, 133], ['Niemcy', COL.Niemcy, 142], ['Rosja (50%)', COL.Rosja, 151.5],
    ['Ukraina', COL.Ukraina, 161], ['Austria', '#f4a4a4', 220], ['Szwecja', '#ffc0f4', 252], ['Białoruś', COL.Bialorus, 279],
  ];
  return {
    grid: GRID(19, 30, 9, 30),
    xAxis: dateAxis(70, 7, P1_DATES, false),
    yAxis: logAxis(0.2, 100, P1_TICKS, P1_TICKS, { align: 'center', margin: 14 }),
    series,
    graphic: [
      T(22, 15, 'Przyrost wykryć w tysiącach', '#222', 10.5),
      T(22, 26.5, 'przeliczony na dobę', '#222', 10.5),
      ...labels.map(([s, c, y]) => T(305, y, s, c, 9.5)),
    ],
  };
}

function panel2() {
  const N = ['wygładzony trend zgonów', 'wygładzony trend wykryć (2%)', 'wygładzony trend wyzdrowień (2%)', 'zmarli /25', 'znane aktywne przypadki (tys.)', 'Wykryci (tys.)', 'oszac. zgonów na 1000 wykryć\n(dane wg daty zgonu, wygładzone)'];
  const series: any[] = [
    L(pairs(OSZAC), '#c8c8c8', 4, { name: N[6], lineStyle: { color: '#c8c8c8', width: 4, type: [1.5, 1.5] } }),
    L(pairs(TREND_ZGONOW), '#9a9a9a', 4, { name: N[0], markLine: darkLines([250, 50, 10]) }),
    L(pairs(TREND_WYZDROWIEN), '#8fc04f', 4, { name: N[2] }),
    L(pairs(TREND_WYKRYC), '#a626a6', 4, { name: N[1] }),
    L(pairs(WYKRYCI), '#ee82ee', 1.5, { name: N[5], symbol: 'circle', symbolSize: 2, showSymbol: true }),
    L(pairs(AKTYWNE), '#e020e0', 1.5, { name: N[4], symbol: 'circle', symbolSize: 2, showSymbol: true }),
    L(pairs(ZMARLI), '#111', 1.5, { name: N[3], symbol: 'circle', symbolSize: 2, showSymbol: true, z: 4 }),
    L(pairs(PROJ2_A), '#c040c0', 1, { lineStyle: { color: '#c040c0', width: 1, type: [1.5, 3] } }),
    L(pairs(PROJ2_B), '#e8a0e8', 1, { lineStyle: { color: '#e8a0e8', width: 1, type: [1.5, 3] } }),
  ];
  return {
    grid: GRID(19, 30, 9.3, 28.4),
    xAxis: dateAxis(238, 14, P2_DATES, true, 2),
    yAxis: logAxis(2, 1250, P2_TICKS, P2_TICKS, { align: 'center', margin: 14 }),
    legend: {
      data: N, orient: 'vertical', left: 133, top: 12, itemWidth: 29, itemHeight: 8, itemGap: 1.8, padding: [2, 6, 3, 4],
      backgroundColor: '#fff', textStyle: { color: '#333', fontSize: 8.2, fontWeight: 'bold', fontFamily: FONT, lineHeight: 10 },
      selectedMode: false,
    },
    series,
    graphic: [
      T(22, 16, 'Polska', '#222', 10.5),
      T(22, 27.5, 'skala logarytmiczna', '#222', 10.5),
      { ...T(298, 180, 'zasadniczo', '#333', 8, 'bold', { align: 'center' }), rotation: 1.17 },
      { ...T(307, 185, 'wykładniczo', '#333', 8, 'bold', { align: 'center' }), rotation: 1.17 },
    ],
  };
}

function pctAxes(labelRight: any) {
  return [
    { type: 'value', position: 'left', min: 0, max: 75, interval: 5, axisLine: AXLINE, axisTick: { show: false },
      axisLabel: { ...AXL, color: '#3a66a8', margin: 4 }, splitLine: SPLIT },
    { type: 'value', position: 'right', min: 0, max: 30, interval: 2, axisLine: AXLINE, axisTick: { show: false },
      axisLabel: { ...AXL, color: '#e8703a', margin: 6, formatter: '{value}%', ...labelRight }, splitLine: { show: false } },
  ];
}

function panel3() {
  return {
    grid: GRID(19, 30, 9.5, 28.2),
    xAxis: dateAxis(224, 14, P3_DATES, true, 2),
    yAxis: pctAxes({}),
    series: [
      { type: 'bar', data: TESTS3.map((v, i) => [i, v]), barWidth: 1.2, itemStyle: { color: '#7b9fcf' }, silent: true },
      L(lin(TREND_TESTS3), '#86a9d9', 5, { smooth: true, lineStyle: { color: '#86a9d9', width: 5, opacity: 0.9 } }),
      L(lin(PCT3_EARLY), '#f07848', 1, { yAxisIndex: 1, symbol: 'circle', symbolSize: 3, showSymbol: true, lineStyle: { color: '#f07848', width: 1.2, type: 'dotted' } }),
      L(lin(PCT3_LATE), '#f07040', 1.3, { yAxisIndex: 1, symbol: 'circle', symbolSize: 3, showSymbol: true }),
      L(lin(SMOOTH_PCT3), '#c04818', 4, { yAxisIndex: 1, smooth: true, lineStyle: { color: '#d05a20', width: 4, opacity: 0.6 } }),
      L(lin(SMOOTH_PCT3), '#5a1506', 1.8, { yAxisIndex: 1, smooth: true }),
    ],
    graphic: [
      T(25, 18, 'nowe testy', '#6f9bd0', 10, 'normal'),
      T(25, 29, '(tysiące)', '#6f9bd0', 10, 'normal'),
      T(366, 18, 'wykryci na test', '#e8704a', 10, 'normal', { align: 'right' }),
      { type: 'text', x: 104, y: 10.5, z: 50, silent: true, style: {
        text: 'Wartości zniekształcone przez rosnący do\n08.08.2020 błąd w danych, który mógł zawyżać\nliczbę testów o tysiące dziennie oraz zaniżać\nwidoczne poniżej wartości w procentach.',
        fill: '#222', fontSize: 7.5, fontWeight: 'bold', fontFamily: FONT, lineHeight: 9.1, align: 'left', verticalAlign: 'top' } },
    ],
  };
}

function panel4() {
  return {
    grid: GRID(19, 30, 20, 28),
    xAxis: dateAxis(112, 7, P4_DATES, true),
    yAxis: pctAxes({}),
    series: [
      { type: 'bar', data: PERSONS4.map((v, i) => [i, v]), barWidth: 2.2, itemStyle: { color: '#7b9fcf' }, silent: true },
      L(lin(TREND_PERSONS4), '#86a9d9', 5, { smooth: true, lineStyle: { color: '#86a9d9', width: 5, opacity: 0.9 } }),
      L(PCT4.map((v, i) => [i, v]), '#f07040', 1.2, { yAxisIndex: 1, symbol: 'circle', symbolSize: 3, showSymbol: true }),
      L(lin(SMOOTH_PCT4), '#d05a20', 4, { yAxisIndex: 1, smooth: true, lineStyle: { color: '#d05a20', width: 4, opacity: 0.6 } }),
      L(lin(SMOOTH_PCT4), '#5a1506', 1.8, { yAxisIndex: 1, smooth: true }),
    ],
    graphic: [
      T(24, 28, 'nowi przebadani', '#6f9bd0', 10, 'normal'),
      T(24, 39, '(tysiące)', '#6f9bd0', 10, 'normal'),
      T(366, 28, 'wykryci na', '#e8704a', 10, 'normal', { align: 'right' }),
      T(366, 39, 'przebadanego', '#e8704a', 10, 'normal', { align: 'right' }),
    ],
  };
}

function panel5() {
  const N = ['zajęte respiratory', 'zajęte łóżka COVID /20', 'w kwarantannie (tys.)', 'nadzorowani (setki)'];
  const cap = (v: number, c: string) => [{ coord: [62, lg(v)], lineStyle: { color: c, width: 1.5, type: [1.5, 3] } }, { coord: [126, lg(v)] }];
  return {
    grid: GRID(19, 30, 19.3, 28.3),
    xAxis: dateAxis(126, 7, P5_DATES, true),
    yAxis: logAxis(50, 1600, P5_TICKS, P5_TICKS, { align: 'right', margin: -2 }),
    legend: {
      data: N, orient: 'vertical', left: 31.7, top: 86.7, itemWidth: 14, itemHeight: 8, itemGap: 9.2, padding: [6, 22, 6, 21],
      backgroundColor: '#fff', textStyle: { color: '#333', fontSize: 8, fontFamily: FONT }, selectedMode: false,
    },
    series: [
      L(pairs(NADZOROWANI), '#f8c020', 1.5, { name: N[3], symbol: 'circle', symbolSize: 6, showSymbol: false }),
      L(pairs(KWARANTANNA), '#f07820', 1.5, { name: N[2], symbol: 'circle', symbolSize: 6, showSymbol: false }),
      L(pairs(LOZKA), '#ee1111', 1.5, { name: N[1], symbol: 'circle', symbolSize: 6, showSymbol: false, markLine: darkLines([800, 100]) }),
      L(pairs(RESPIRATORY), '#7a1030', 1.5, { name: N[0], symbol: 'circle', symbolSize: 6, showSymbol: false,
        markLine: { silent: true, symbol: 'none', label: { show: false }, data: [
          cap(RESPIRATOR_LIMITS[0], '#8b1a3a'), cap(BED_LIMITS[0] / BED_SCALE, '#e02020'),
          cap(RESPIRATOR_LIMITS[1], '#8b1a3a'), cap(BED_LIMITS[1] / BED_SCALE, '#e02020'),
        ] } }),
      L(pairs(PROJ5_RESP), '#8b1a3a', 1.5, { lineStyle: { color: '#8b1a3a', width: 1.5, type: [1.5, 4] } }),
      L(pairs(PROJ5_BEDS), '#e02020', 1.5, { lineStyle: { color: '#e03040', width: 1.5, type: [1.5, 4] } }),
    ],
    graphic: [
      T(22, 25.7, 'Polska', '#222', 10.5),
      T(22, 37.3, 'skala logarytmiczna', '#222', 10.5),
      T(241, 40, '1 393 respiratorów', '#8b1a3a', 9.5),
      T(241, 67, '18 432 łóżek', '#e02020', 9.5),
      T(241, 90, '838 respiratorów', '#8b1a3a', 9.5),
      T(241, 118, '11 000 łóżek', '#e02020', 9.5),
      { ...T(223, 53, '23.10.2020', '#222', 10, 'normal', { align: 'center' }), rotation: 1.05 },
      { ...T(222, 103, 'wcześniej', '#222', 10, 'normal', { align: 'center' }), rotation: 1.1 },
    ],
  };
}

const COUNTRY_ORDER67 = ['Czechy', 'Szwajcaria', 'Słowacja', 'UK', 'Polska', 'Włochy', 'Europa', 'Austria', 'USA', 'Niemcy', 'Ukraina', 'Szwecja', 'Rosja', 'Białoruś', 'Brazylia', 'Indie', 'Estonia', 'RPA'];
const KEY67 = ['Czechy', 'Szwajcaria', 'Slowacja', 'UK', 'Polska', 'Wlochy', 'Europa', 'Austria', 'USA', 'Niemcy', 'Ukraina', 'Szwecja', 'Rosja', 'Bialorus', 'Brazylia', 'Indie', 'Estonia', 'RPA'];

function panel67(kind: number) {
  const d6: any = { Czechy: CZECHY6, Szwajcaria: SZWAJCARIA6, Slowacja: SLOWACJA6, UK: UK6, Polska: POLSKA6, Wlochy: WLOCHY6, Europa: EUROPA6, Austria: AUSTRIA6, USA: USA6, Niemcy: NIEMCY6, Ukraina: UKRAINA6, Szwecja: SZWECJA6, Rosja: ROSJA6, Bialorus: BIALORUS6, Brazylia: BRAZYLIA6, Indie: INDIE6, Estonia: ESTONIA6, RPA: RPA6 };
  const d7: any = { Czechy: CZECHY7, Szwajcaria: SZWAJCARIA7, Slowacja: SLOWACJA7, UK: UK7, Polska: POLSKA7, Wlochy: WLOCHY7, Europa: EUROPA7, Austria: AUSTRIA7, USA: USA7, Niemcy: NIEMCY7, Ukraina: UKRAINA7, Szwecja: SZWECJA7, Rosja: ROSJA7, Bialorus: BIALORUS7, Brazylia: BRAZYLIA7, Indie: INDIE7, Estonia: ESTONIA7, RPA: RPA7 };
  const d = kind === 6 ? d6 : d7;
  const drawOrder = ['RPA', 'Estonia', 'Indie', 'Brazylia', 'Szwecja', 'Szwajcaria', 'Bialorus', 'Rosja', 'Austria', 'Wlochy', 'Europa', 'Ukraina', 'Niemcy', 'USA', 'UK', 'Slowacja', 'Polska', 'Czechy'];
  const series = drawOrder.map((k, i) => L(pairs(d[k]), COL[k], kind === 6 ? 3 : (k === 'Polska' ? 3 : 1.8), {
    lineStyle: { color: COL[k], width: kind === 6 ? 3 : (k === 'Polska' ? 3 : 1.8), opacity: kind === 6 ? 0.75 : 0.9 },
    ...(i === 0 ? { markLine: darkLines([500, 100]) } : {}),
  }));
  const ys6 = [40.3, 79.9, 95.7, 102.6, 110.9, 119.1, 126.7, 134.6, 142.6, 150.5, 158.4, 166.3, 174.2, 189.4, 197.7, 229, 244.8, 260.7];
  const ys7 = [50.5, 89.7, 105.5, 113, 121, 129, 137, 144.8, 152.7, 160.6, 168.3, 176, 184, 199.3, 207.7, 239.3, 255, 270.7];
  const ys = kind === 6 ? ys6 : ys7;
  const t0 = kind === 6 ? 18 : 29.5;
  return {
    grid: kind === 6 ? GRID(19, 68, 9.6, 19) : GRID(19, 68, 19, 27.7),
    xAxis: numAxis(kind === 6 ? -160 : -70, 0, 10),
    yAxis: logAxis(4, 2500, P67_TICKS, P67_TICKS, { align: 'right', margin: 3 }),
    series,
    graphic: [
      T(23, t0, 'Średnia krocząca nowych wykryć na milion mieszkańców', '#222', 10),
      T(23, t0 + 12.5, kind === 6 ? '(obliczana na podstawie siedmiu dni z danymi)' : '(obliczana na podstawie trzech dni z danymi)', '#222', 10),
      ...COUNTRY_ORDER67.map((s, i) => T(338, ys[i], s, COL[KEY67[i]], 9.5)),
    ],
  };
}

function panel8() {
  const pts = (c: string, data: any[], w = 1.3) => L(data, c, w, { symbol: 'circle', symbolSize: 3, showSymbol: true });
  const at = (v: number[]) => atDays(P8_DAYS, v);
  const series = [
    pts('#b8b8b8', at(BELGIA8)), pts('#888', at(LUKSEMBURG8)), pts('#c8c8c8', at(HOLANDIA8)), pts('#7b7be0', at(FRANCJA8)),
    pts('#e8b898', at(RPA8)), pts('#e898f0', at(IRLANDIA8)), pts('#ffb0ff', at(SZWECJA8)), pts(COL.Szwajcaria, at(SZWAJCARIA8)),
    pts(COL.UK, at(UK8)), pts(COL.Europa, at(EUROPA8)), pts(COL.Rosja, at(ROSJA8)), pts(COL.Bialorus, at(BIALORUS8)),
    pts(COL.Austria, at(AUSTRIA8)), pts(COL.Wlochy, at(WLOCHY8)), pts(COL.Ukraina, at(UKRAINA8)), pts(COL.Niemcy, at(NIEMCY8)),
    pts('#30e0f0', at(NORWEGIA8)), pts('#f09030', at(HISZPANIA8)), pts(COL.Brazylia, at(BRAZYLIA8)), pts('#1e7b1e', at(USA8), 1.6),
    pts('#2040b0', pairs(CZECHY8), 1.6), pts('#30d030', pairs(SLOWACJA8), 1.6), pts('#c8203c', pairs(POLSKA8), 1.6),
  ];
  (series[0] as any).markLine = darkLines([10]);
  const rows: any[] = [
    ['USA, ', '#1e7b1e', 'Belgia', '#b0b0b0', 19], ['Brazylia, ', '#e0c020', 'Hiszpania', '#f09030', 27],
    ['Czechy', '#2040b0', null, null, 35], ['Luksemburg', '#888', null, null, 43],
    ['Holandia, ', '#c0c0c0', 'Francja', '#7878e0', 68.7], ['Szwajcaria, ', COL.Szwajcaria, 'UK', '#e020e0', 93],
    ['RPA, ', '#e8b898', 'Irlandia', '#e080e8', 101], ['Europa, ', COL.Europa, 'Szwecja', '#ffb0ff', 109.3],
    ['Rosja, ', COL.Rosja, 'Białoruś', COL.Bialorus, 120.3], ['Austria, ', '#ee8080', 'Włochy', COL.Wlochy, 132.3],
    ['Słowacja, ', '#30d030', 'Ukraina', COL.Ukraina, 143.7], ['Polska', '#c8203c', null, null, 164],
    ['Niemcy', COL.Niemcy, null, null, 186.7], ['Norwegia', '#30e0f0', null, null, 231.7],
  ];
  return {
    grid: GRID(19, 20, 10, 17.7),
    xAxis: dateAxis(49, 7, P89_DATES, false, 7),
    yAxis: logAxis(1, 30, [1, 2, 3, 4, 5, 6, 7, 8, 9, 10, 20, 30], [1, 2, 5, 10, 20], { align: 'right', margin: -2 }),
    series,
    graphic: [
      T(21, 16, 'Wykrycia na tysiąc ludzi', '#222', 10.5),
      T(21, 27, 'skala logarytmiczna', '#222', 10.5),
      ...rows.map(([a, ca, b, cb, y]) => RT(281, y, a, ca, b, cb, 9)),
    ],
  };
}

function panel9() {
  const d: any[] = [
    ['#a08898', 5, WEGRY9, PROJ9.Wegry], ['#2090d0', 7, UKRAINA9, PROJ9.Ukraina], ['#505070', 15, BIALORUS9, PROJ9.Bialorus],
    ['#20a8b0', 19, NIEMCY9, PROJ9.Niemcy], ['#30e0f0', 22, NORWEGIA9, PROJ9.Norwegia], ['#30d030', 9, SLOWACJA9, PROJ9.Slowacja],
    ['#d02040', 14, POLSKA9, PROJ9.Polska], ['#2040b0', 5, CZECHY9, PROJ9.Czechy],
  ];
  const series: any[] = [];
  d.forEach(([c, s, vals, proj], i) => {
    series.push(L(pairs(proj), c, 0.8, { lineStyle: { color: c, width: 0.8, opacity: 0.7 } }));
    series.push(L(seq(s, vals), c, 1.6, { symbol: 'circle', symbolSize: 3, showSymbol: true, ...(i === 0 ? { markLine: darkLines([80, 40, 20, 10]) } : {}) }));
  });
  const labs: any[] = [
    ['Czechy (50%)', '#2040b0', 93], ['Słowacja', '#30d030', 133.3], ['Polska', '#d02040', 152.3], ['Węgry', '#a08898', 163.3],
    ['Ukraina', '#2090d0', 174], ['Białoruś', '#505070', 255.7], ['Niemcy', '#20a8b0', 270], ['Norwegia', '#30e0f0', 310.7],
  ];
  return {
    grid: GRID(19, 20, 20, 27.7),
    xAxis: dateAxis(49, 7, P89_DATES, false, 7),
    yAxis: logAxis(5, 160, [5, 7, 10, 14, 20, 28, 40, 56, 80, 112, 160], [5, 10, 20, 40, 80, 160], { align: 'right', margin: -2 }),
    series,
    graphic: [
      T(21, 26.7, 'Wykrycia z ostatnich pięciu tygodni', '#222', 10.5),
      T(21, 38.3, 'na 10 000 mieszkańców', '#222', 10.5),
      T(21, 49.7, 'skala logarytmiczna', '#222', 10.5),
      T(21, 60.3, 'Krzywe regresji: wielomiany piątego stopnia.', '#333', 7.5, 'normal'),
      T(21, 69.3, 'Wystarczająco szybko reagują na zmiany.', '#333', 7.5, 'normal'),
      ...labs.map(([s, c, y]) => T(22, y, s, c, 9.5)),
    ],
  };
}

function Chart({ top, height, option }: any) {
  const ref = useRef<HTMLDivElement>(null);
  useEffect(() => {
    const chart = echarts.init(ref.current as HTMLDivElement, null, { renderer: 'svg' });
    chart.setOption({ animation: false, textStyle: { fontFamily: FONT }, ...option });
    return () => chart.dispose();
  }, [option]);
  return <div ref={ref} style={{ position: 'absolute', left: 0, top, width: 400, height }} />;
}

export default function App() {
  const panels = useMemo(() => [
    { top: 0, height: 380, option: panel1() },
    { top: 380, height: 380, option: panel2() },
    { top: 760, height: 370, option: panel3() },
    { top: 1130, height: 380, option: panel4() },
    { top: 1510, height: 390, option: panel5() },
    { top: 1900, height: 370, option: panel67(6) },
    { top: 2270, height: 390, option: panel67(7) },
    { top: 2660, height: 370, option: panel8() },
    { top: 3030, height: 390, option: panel9() },
  ], []);
  return (
    <div style={{ position: 'absolute', left: 0, top: 0, width: 400, height: 3420, background: '#fff', overflow: 'hidden' }}>
      {panels.map((p, i) => <Chart key={i} {...p} />)}
    </div>
  );
}
